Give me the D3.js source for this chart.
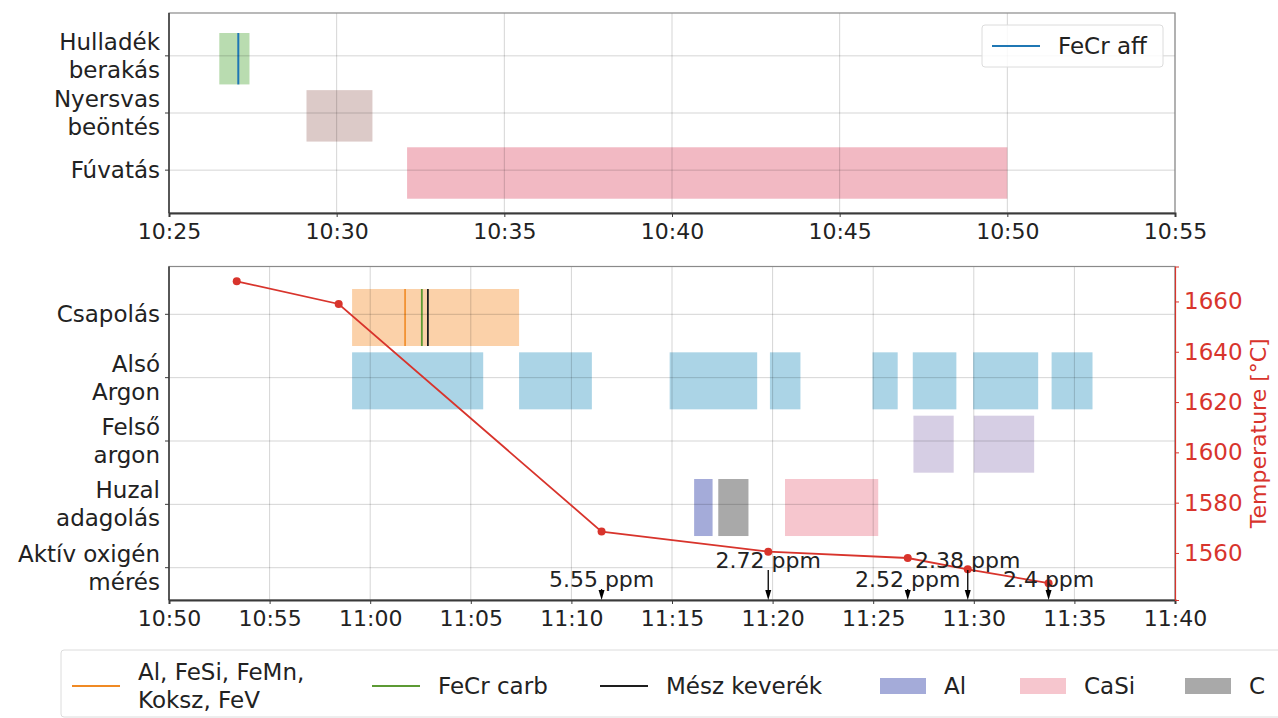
<!DOCTYPE html>
<html>
<head>
<meta charset="utf-8">
<script src="https://cdn.jsdelivr.net/npm/d3@7"></script>
<style>
  body { margin: 0; background: #fff; }
  svg { display: block; font-family: "DejaVu Sans", sans-serif; }
</style>
</head>
<body>
<svg id="chart" width="1278" height="718"></svg>
<script>
// ---------- Upper panel: charging / pouring / blowing ----------
const topRows = ["Hulladék\nberakás", "Nyersvas\nbeöntés", "Fúvatás"];
const topStart = ["10:26:30", "10:29:06", "10:32:06"];
const topEnd   = ["10:27:24", "10:31:04", "10:50:00"];
const topColors = ["#b9dcb0", "#dccac8", "#f2b9c3"];
const fecrAffTimes = ["10:27:04"];
const topTicks = ["10:25", "10:30", "10:35", "10:40", "10:45", "10:50", "10:55"];

// ---------- Lower panel: ladle treatment ----------
const botRows = ["Csapolás", "Alsó\nArgon", "Felső\nargon", "Huzal\nadagolás", "Aktív oxigén\nmérés"];
const tapping = [["10:59:06", "11:07:24"]];
const addAlFeSi = ["11:01:44"];
const addFeCrCarb = ["11:02:34"];
const addMesz = ["11:02:52"];
const bottomArgon = [
  ["10:59:06", "11:05:37"], ["11:07:24", "11:11:01"], ["11:14:53", "11:19:14"],
  ["11:19:52", "11:21:23"], ["11:24:58", "11:26:13"], ["11:26:58", "11:29:08"],
  ["11:29:58", "11:33:12"], ["11:33:52", "11:35:54"]
];
const topArgon = [["11:27:00", "11:29:00"], ["11:30:00", "11:33:00"]];
const wireAl = [["11:16:06", "11:17:01"]];
const wireC = [["11:17:18", "11:18:48"]];
const wireCaSi = [["11:20:37", "11:25:15"]];

const tempTimes  = ["10:53:22", "10:58:26", "11:11:30", "11:19:47", "11:26:43", "11:29:42", "11:33:43"];
const tempValues = [1668, 1659, 1568.5, 1560.5, 1558, 1553.5, 1548];

const oxyTimes  = ["11:11:30", "11:19:47", "11:26:43", "11:29:42", "11:33:43"];
const oxyPpm    = [5.55, 2.72, 2.52, 2.38, 2.4];
const oxyRaised = [false, true, false, true, false];

const botTicks  = ["10:50", "10:55", "11:00", "11:05", "11:10", "11:15", "11:20", "11:25", "11:30", "11:35", "11:40"];
const tempTicks = [1560, 1580, 1600, 1620, 1640, 1660];

// ---------- styling ----------
const C = {
  orangeBar: "#fbd1a9", argonLow: "#abd4e6", argonTop: "#d6cee4",
  wireAl: "#a4abd9", wireC: "#a9a9a9", wireCaSi: "#f6c6ce",
  lineOrange: "#f08a24", lineGreen: "#5c9a34", lineBlack: "#1e1e1e",
  blue: "#1f77b4", red: "#d8342c", grid: "rgba(0,0,0,0.17)", spine: "#3a3a3a", text: "#222"
};
const FS = 23;

const parse = d3.timeParse("%H:%M:%S");
const parseHM = d3.timeParse("%H:%M");
const fmt = d3.timeFormat("%H:%M");
const svg = d3.select("#chart");

const L = 169, R = 1175;
const TOP = { y0: 13, y1: 213 };
const BOT = { y0: 266.5, y1: 600 };

const xTop = d3.scaleTime().domain([parse("10:25:00"), parse("10:55:00")]).range([L, R]);
const yTop = d3.scaleLinear().domain([-0.75, 2.75]).range([TOP.y0, TOP.y1]);
const xBot = d3.scaleTime().domain([parse("10:50:00"), parse("11:40:00")]).range([L, R]);
const yBot = d3.scaleLinear().domain([-0.755, 4.51]).range([BOT.y0, BOT.y1]);
const yTemp = d3.scaleLinear().domain([1541.3, 1673.9]).range([BOT.y1, BOT.y0]);

function multiline(sel, text, x, yc, anchor, lh) {
  const lines = text.split("\n");
  const t = sel.append("text").attr("x", x).attr("text-anchor", anchor)
    .attr("font-size", FS).attr("fill", C.text);
  lines.forEach((ln, i) => {
    t.append("tspan").attr("x", x)
      .attr("y", yc + (i - (lines.length - 1) / 2) * lh)
      .attr("dominant-baseline", "central").text(ln);
  });
  return t;
}

function drawGrid(g, x, y, ticks, rows, yr) {
  g.selectAll(null).data(ticks).join("line")
    .attr("x1", d => x(parseHM(d))).attr("x2", d => x(parseHM(d)))
    .attr("y1", yr[0]).attr("y2", yr[1]).attr("stroke", C.grid).attr("stroke-width", 1);
  g.selectAll(null).data(rows).join("line")
    .attr("x1", L).attr("x2", R).attr("y1", (d, i) => y(i)).attr("y2", (d, i) => y(i))
    .attr("stroke", C.grid).attr("stroke-width", 1);
}

function drawAxes(g, x, y, ticks, rows, yr) {
  // frame
  g.append("rect").attr("x", L).attr("y", yr[0]).attr("width", R - L).attr("height", yr[1] - yr[0])
    .attr("fill", "none").attr("stroke", "#8a8a8a").attr("stroke-width", 1.2);
  const ax = d3.axisBottom(x).tickValues(ticks.map(parseHM)).tickFormat(fmt).tickSize(4).tickPadding(6);
  const axg = g.append("g").attr("transform", `translate(0,${yr[1]})`).call(ax);
  axg.select(".domain").attr("stroke", C.spine).attr("stroke-width", 2);
  axg.selectAll(".tick line").attr("stroke", C.spine);
  axg.selectAll(".tick text").attr("font-size", FS - 1).attr("fill", C.text)
    .attr("font-family", "DejaVu Sans, sans-serif");
  // left spine & row ticks
  g.append("line").attr("x1", L).attr("x2", L).attr("y1", yr[0]).attr("y2", yr[1])
    .attr("stroke", C.spine).attr("stroke-width", 1.5);
  rows.forEach((r, i) => {
    g.append("line").attr("x1", L - 4).attr("x2", L).attr("y1", y(i)).attr("y2", y(i))
      .attr("stroke", C.spine);
    multiline(g, r, L - 9, y(i), "end", 28);
  });
}

function bars(g, x, y, row, intervals, color, h0 = 0.4, h1 = 0.5) {
  g.selectAll(null).data(intervals).join("rect")
    .attr("x", d => x(parse(d[0]))).attr("width", d => x(parse(d[1])) - x(parse(d[0])))
    .attr("y", y(row - h0)).attr("height", y(row + h1) - y(row - h0))
    .attr("fill", color);
}

function vlines(g, x, y, row, times, color, w) {
  g.selectAll(null).data(times).join("line")
    .attr("x1", d => x(parse(d))).attr("x2", d => x(parse(d)))
    .attr("y1", y(row - 0.4)).attr("y2", y(row + 0.5))
    .attr("stroke", color).attr("stroke-width", w);
}

// ===== Upper panel =====
const gt = svg.append("g");
topRows.forEach((r, i) => bars(gt, xTop, yTop, i, [[topStart[i], topEnd[i]]], topColors[i]));
vlines(gt, xTop, yTop, 0, fecrAffTimes, C.blue, 2);
drawGrid(gt, xTop, yTop, topTicks, topRows, [TOP.y0, TOP.y1]);
drawAxes(gt, xTop, yTop, topTicks, topRows, [TOP.y0, TOP.y1]);

// legend (upper)
const lg1 = gt.append("g");
lg1.append("rect").attr("x", 982).attr("y", 25).attr("width", 181).attr("height", 42).attr("rx", 3)
  .attr("fill", "#fff").attr("fill-opacity", 0.85).attr("stroke", "#dcdcdc");
lg1.append("line").attr("x1", 992).attr("x2", 1040).attr("y1", 46).attr("y2", 46)
  .attr("stroke", C.blue).attr("stroke-width", 2);
lg1.append("text").attr("x", 1058).attr("y", 46).attr("dominant-baseline", "central")
  .attr("font-size", FS).attr("fill", C.text).text("FeCr aff");

// ===== Lower panel =====
const gb = svg.append("g");
bars(gb, xBot, yBot, 0, tapping, C.orangeBar);
bars(gb, xBot, yBot, 1, bottomArgon, C.argonLow);
bars(gb, xBot, yBot, 2, topArgon, C.argonTop);
bars(gb, xBot, yBot, 3, wireAl, C.wireAl);
bars(gb, xBot, yBot, 3, wireC, C.wireC);
bars(gb, xBot, yBot, 3, wireCaSi, C.wireCaSi);
vlines(gb, xBot, yBot, 0, addAlFeSi, C.lineOrange, 1.6);
vlines(gb, xBot, yBot, 0, addFeCrCarb, C.lineGreen, 1.8);
vlines(gb, xBot, yBot, 0, addMesz, C.lineBlack, 1.8);
drawGrid(gb, xBot, yBot, botTicks, botRows, [BOT.y0, BOT.y1]);
drawAxes(gb, xBot, yBot, botTicks, botRows, [BOT.y0, BOT.y1]);

// temperature on the right axis
const tempData = tempTimes.map((t, i) => ({ t: parse(t), v: tempValues[i] }));
gb.append("path").datum(tempData)
  .attr("d", d3.line().x(d => xBot(d.t)).y(d => yTemp(d.v)))
  .attr("fill", "none").attr("stroke", C.red).attr("stroke-width", 1.8);
gb.selectAll(null).data(tempData).join("circle")
  .attr("cx", d => xBot(d.t)).attr("cy", d => yTemp(d.v)).attr("r", 4).attr("fill", C.red);

const ra = gb.append("g").attr("transform", `translate(${R},0)`)
  .call(d3.axisRight(yTemp).tickValues(tempTicks).tickFormat(d3.format("d")).tickSize(4).tickPadding(5));
ra.select(".domain").attr("stroke", C.red).attr("stroke-width", 1.2);
ra.selectAll(".tick line").attr("stroke", C.red);
ra.selectAll(".tick text").attr("font-size", FS).attr("fill", C.red)
  .attr("font-family", "DejaVu Sans, sans-serif");
gb.append("text").attr("transform", `translate(1258,${(BOT.y0 + BOT.y1) / 2}) rotate(-90)`)
  .attr("text-anchor", "middle").attr("dominant-baseline", "central")
  .attr("font-size", FS - 1).attr("fill", C.red).text("Temperature [°C]");

// active oxygen annotations
oxyTimes.forEach((t, i) => {
  const x = xBot(parse(t));
  const base = oxyRaised[i] ? 568 : 587;
  gb.append("text").attr("x", x).attr("y", base).attr("text-anchor", "middle")
    .attr("font-size", FS - 1).attr("fill", C.text).text(`${oxyPpm[i]} ppm`);
  const yEnd = BOT.y1;
  gb.append("line").attr("x1", x).attr("x2", x).attr("y1", base + 2).attr("y2", yEnd - 8)
    .attr("stroke", "#000").attr("stroke-width", 1.3);
  gb.append("path").attr("d", `M${x - 3},${yEnd - 10}L${x + 3},${yEnd - 10}L${x},${yEnd}Z`)
    .attr("fill", "#000");
});

// ===== Bottom legend =====
const lg = svg.append("g");
lg.append("rect").attr("x", 61).attr("y", 650).attr("width", 1240).attr("height", 67).attr("rx", 3)
  .attr("fill", "#fff").attr("stroke", "#dcdcdc");
const legendY = 686;
const legendLines = [
  { x: 72, color: C.lineOrange, label: "Al, FeSi, FeMn,\nKoksz, FeV" },
  { x: 372, color: C.lineGreen, label: "FeCr carb" },
  { x: 600, color: C.lineBlack, label: "Mész keverék" }
];
legendLines.forEach(d => {
  lg.append("line").attr("x1", d.x).attr("x2", d.x + 48).attr("y1", legendY).attr("y2", legendY)
    .attr("stroke", d.color).attr("stroke-width", 2);
  multiline(lg, d.label, d.x + 66, legendY, "start", 28);
});
const legendPatches = [
  { x: 880, color: C.wireAl, label: "Al" },
  { x: 1020, color: C.wireCaSi, label: "CaSi" },
  { x: 1185, color: C.wireC, label: "C" }
];
legendPatches.forEach(d => {
  lg.append("rect").attr("x", d.x).attr("y", legendY - 8).attr("width", 46).attr("height", 16)
    .attr("fill", d.color);
  multiline(lg, d.label, d.x + 64, legendY, "start", 28);
});
</script>
</body>
</html>
